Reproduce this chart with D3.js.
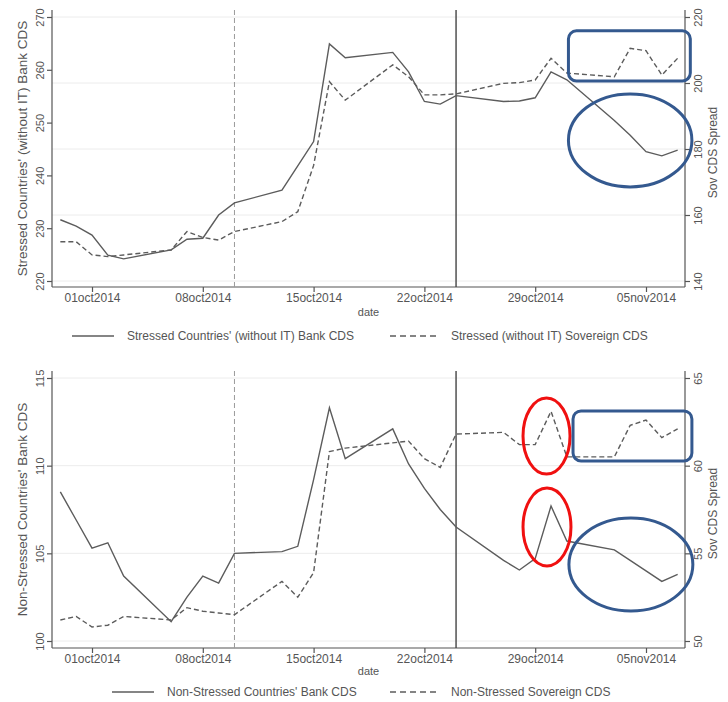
<!DOCTYPE html>
<html>
<head>
<meta charset="utf-8">
<script src="https://cdn.jsdelivr.net/npm/d3@7"></script>
<style>
  body { margin: 0; background: #fff; }
  svg { display: block; font-family: "Liberation Sans", Arial, sans-serif; }
</style>
</head>
<body>
<svg id="chart" width="728" height="702"></svg>
<script>
// weekday dates, 29sep2014 .. 07nov2014
const dates = ["2014-09-29","2014-09-30","2014-10-01","2014-10-02","2014-10-03",
  "2014-10-06","2014-10-07","2014-10-08","2014-10-09","2014-10-10",
  "2014-10-13","2014-10-14","2014-10-15","2014-10-16","2014-10-17",
  "2014-10-20","2014-10-21","2014-10-22","2014-10-23","2014-10-24",
  "2014-10-27","2014-10-28","2014-10-29","2014-10-30","2014-10-31",
  "2014-11-03","2014-11-04","2014-11-05","2014-11-06","2014-11-07"];

const stressedBank = [231.6,230.4,228.7,224.9,224.2, 225.9,227.9,228.1,232.5,234.8,
  237.2,241.8,246.4,264.9,262.3, 263.3,259.6,254.0,253.5,255.1,
  254.0,254.1,254.7,259.6,258.1, 250.4,247.6,244.5,243.7,244.8];
const stressedSov = [151.9,151.9,147.9,147.4,147.9, 149.4,155.0,153.2,152.4,155.0,
  158.0,161.0,175.0,200.4,194.8, 205.5,201.9,196.4,196.4,196.7,
  199.9,200.1,200.9,207.5,203.0, 201.9,210.5,209.8,202.4,207.5];

const nonStressedBank = [108.5,106.9,105.3,105.6,103.7, 101.1,102.5,103.7,103.3,105.0,
  105.1,105.4,109.2,113.3,110.4, 112.1,110.1,108.7,107.5,106.5,
  104.6,104.05,104.7,107.7,105.7, 105.2,104.6,104.0,103.4,103.8];
const nonStressedSov = [51.2,51.4,50.8,50.9,51.4, 51.2,51.9,51.7,51.6,51.5,
  53.4,52.5,53.9,60.8,61.0, 61.3,61.4,60.4,59.9,61.8,
  61.9,61.2,61.2,63.1,60.5, 60.5,62.3,62.6,61.6,62.1];

const xTicks = ["2014-10-01","2014-10-08","2014-10-15","2014-10-22","2014-10-29","2014-11-05"];
const refDashed = "2014-10-10";
const refSolid = "2014-10-24";

const topLeftTicks = [220,230,240,250,260,270];
const topRightTicks = [140,160,180,200,220];
const botLeftTicks = [100,105,110,115];
const botRightTicks = [50,55,60,65];

const parse = d3.timeParse("%Y-%m-%d");
const fmt = d => d3.timeFormat("%d%b%Y")(d).toLowerCase();

const svg = d3.select("#chart");

const x = d3.scaleTime()
  .domain([parse("2014-10-01"), parse("2014-11-05")])
  .range([92, 646]);
const xLeft = 52, xRight = 685;

// annotations: day offsets from 01oct and right-axis values
const dayOf = d => parse("2014-10-01").getTime() + d * 864e5;

function panel(cfg) {
  const g = svg.append("g");
  const yL = d3.scaleLinear().domain(cfg.leftDomain).range(cfg.range);
  const yR = d3.scaleLinear().domain(cfg.rightDomain).range(cfg.range);

  // gridlines (from right axis)
  g.selectAll("line.grid")
    .data(cfg.rightTicks)
    .join("line")
      .attr("x1", xLeft).attr("x2", xRight)
      .attr("y1", d => yR(d)).attr("y2", d => yR(d))
      .attr("stroke", "#ececec").attr("stroke-width", 1);

  // left axis
  const la = g.append("g")
    .attr("transform", `translate(${xLeft},0)`)
    .call(d3.axisLeft(yL).tickValues(cfg.leftTicks).tickSize(5));
  la.select(".domain").attr("d", `M0,${cfg.axisTop}V${cfg.axisY}`);
  la.selectAll("text")
    .attr("transform", "rotate(-90)")
    .attr("x", 0).attr("y", -8).attr("dy", 0)
    .attr("text-anchor", "middle")
    .attr("font-size", 11).attr("fill", "#555");

  // right axis
  const ra = g.append("g")
    .attr("transform", `translate(${xRight},0)`)
    .call(d3.axisRight(yR).tickValues(cfg.rightTicks).tickSize(5));
  ra.select(".domain").attr("d", `M0,${cfg.axisTop}V${cfg.axisY}`);
  ra.selectAll("text")
    .attr("transform", "rotate(-90)")
    .attr("x", 0).attr("y", 17).attr("dy", 0)
    .attr("text-anchor", "middle")
    .attr("font-size", 11).attr("fill", "#555");

  // bottom axis
  const ba = g.append("g")
    .attr("transform", `translate(0,${cfg.axisY})`)
    .call(d3.axisBottom(x).tickValues(xTicks.map(parse)).tickFormat(fmt).tickSize(5));
  ba.select(".domain").attr("d", `M${xLeft},0H${xRight}`);
  ba.selectAll("text")
    .attr("y", 15).attr("dy", 0)
    .attr("font-size", 12).attr("fill", "#555");

  [la, ra, ba].forEach(a => {
    a.selectAll(".domain, line").attr("stroke", "#555").attr("stroke-width", 1.2);
  });

  // reference lines
  g.append("line")
    .attr("x1", x(parse(refDashed))).attr("x2", x(parse(refDashed)))
    .attr("y1", cfg.axisTop).attr("y2", cfg.axisY)
    .attr("stroke", "#9a9a9a").attr("stroke-width", 1)
    .attr("stroke-dasharray", "5,3");
  g.append("line")
    .attr("x1", x(parse(refSolid))).attr("x2", x(parse(refSolid)))
    .attr("y1", cfg.axisTop).attr("y2", cfg.axisY)
    .attr("stroke", "#444").attr("stroke-width", 1.4);

  // series
  const bank = dates.map((d, i) => ({date: parse(d), v: cfg.bank[i]}));
  const sov = dates.map((d, i) => ({date: parse(d), v: cfg.sov[i]}));
  g.append("path")
    .datum(bank)
    .attr("d", d3.line().x(d => x(d.date)).y(d => yL(d.v)))
    .attr("fill", "none").attr("stroke", "#5c5c5c").attr("stroke-width", 1.4);
  g.append("path")
    .datum(sov)
    .attr("d", d3.line().x(d => x(d.date)).y(d => yR(d.v)))
    .attr("fill", "none").attr("stroke", "#5c5c5c").attr("stroke-width", 1.4)
    .attr("stroke-dasharray", "5,3");

  // axis titles
  const midY = (cfg.axisTop + cfg.axisY) / 2;
  g.append("text")
    .attr("transform", `translate(22,${midY}) rotate(-90)`)
    .attr("text-anchor", "middle").attr("dy", "0.35em")
    .attr("font-size", 13.5).attr("fill", "#555")
    .text(cfg.leftTitle);
  g.append("text")
    .attr("transform", `translate(713,${midY + 4}) rotate(-90)`)
    .attr("text-anchor", "middle").attr("dy", "0.35em")
    .attr("font-size", 12).attr("fill", "#555")
    .text("Sov CDS Spread");
  g.append("text")
    .attr("x", (xLeft + xRight) / 2).attr("y", cfg.axisY + cfg.dateDy)
    .attr("text-anchor", "middle")
    .attr("font-size", 11).attr("fill", "#555")
    .text("date");

  // legend
  const ly = cfg.axisY + cfg.legDy;
  g.append("line")
    .attr("x1", cfg.leg[0]).attr("x2", cfg.leg[0] + 42)
    .attr("y1", ly).attr("y2", ly)
    .attr("stroke", "#5c5c5c").attr("stroke-width", 1.3);
  g.append("text")
    .attr("x", cfg.leg[0] + 55).attr("y", ly).attr("dy", "0.35em")
    .attr("font-size", 12).attr("fill", "#555")
    .text(cfg.legend[0]);
  g.append("line")
    .attr("x1", cfg.leg[1]).attr("x2", cfg.leg[1] + 50)
    .attr("y1", ly).attr("y2", ly)
    .attr("stroke", "#5c5c5c").attr("stroke-width", 1.3)
    .attr("stroke-dasharray", "6,4");
  g.append("text")
    .attr("x", cfg.leg[1] + 61).attr("y", ly).attr("dy", "0.35em")
    .attr("font-size", 12).attr("fill", "#555")
    .text(cfg.legend[1]);

  // annotation marks (bounding boxes in days from 01oct / right-axis values)
  cfg.notes.forEach(n => {
    const x0 = x(dayOf(n.d[0])), x1 = x(dayOf(n.d[1]));
    const y0 = yR(n.v[1]), y1 = yR(n.v[0]);
    if (n.shape === "rect") {
      g.append("rect")
        .attr("x", x0).attr("y", y0)
        .attr("width", x1 - x0).attr("height", y1 - y0)
        .attr("rx", 8).attr("ry", 8)
        .attr("fill", "none").attr("stroke", n.color).attr("stroke-width", 3);
    } else {
      g.append("ellipse")
        .attr("cx", (x0 + x1) / 2).attr("cy", (y0 + y1) / 2)
        .attr("rx", (x1 - x0) / 2).attr("ry", (y1 - y0) / 2)
        .attr("fill", "none").attr("stroke", n.color).attr("stroke-width", 3);
    }
  });
}

const blue = "#34598f", red = "#f01010";

panel({
  bank: stressedBank, sov: stressedSov,
  leftDomain: [220, 270], rightDomain: [140, 220], range: [281, 17],
  leftTicks: topLeftTicks, rightTicks: topRightTicks,
  axisTop: 10, axisY: 287, dateDy: 29, legDy: 49,
  leftTitle: "Stressed Countries' (without IT) Bank CDS",
  legend: ["Stressed Countries' (without IT) Bank CDS", "Stressed (without IT) Sovereign CDS"],
  leg: [72, 390],
  notes: [
    {shape: "rect", d: [30.1, 37.8], v: [200.6, 215.8], color: blue},
    {shape: "ellipse", d: [30.1, 37.9], v: [168.5, 196.7], color: blue}
  ]
});

panel({
  bank: nonStressedBank, sov: nonStressedSov,
  leftDomain: [100, 115], rightDomain: [50, 65], range: [641, 378],
  leftTicks: botLeftTicks, rightTicks: botRightTicks,
  axisTop: 371, axisY: 648, dateDy: 27, legDy: 44,
  leftTitle: "Non-Stressed Countries' Bank CDS",
  legend: ["Non-Stressed Countries' Bank CDS", "Non-Stressed Sovereign CDS"],
  leg: [112, 390],
  notes: [
    {shape: "ellipse", d: [27.23, 30.2], v: [59.52, 63.86], color: red},
    {shape: "ellipse", d: [27.23, 30.26], v: [54.28, 58.72], color: red},
    {shape: "rect", d: [30.39, 37.9], v: [60.27, 63.12], color: blue},
    {shape: "ellipse", d: [30.13, 37.96], v: [51.71, 57.01], color: blue}
  ]
});
</script>
</body>
</html>
